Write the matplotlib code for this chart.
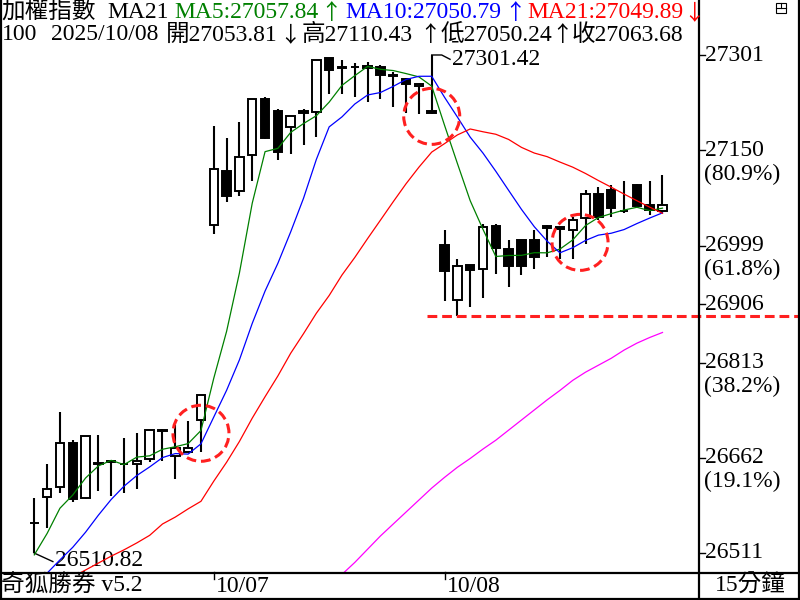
import numpy as np
import pandas as pd
import matplotlib
matplotlib.use("Agg")
import matplotlib.pyplot as plt
import matplotlib.transforms as mtransforms
from matplotlib.patches import Ellipse, Rectangle
from matplotlib.lines import Line2D

plt.rcParams['font.family'] = ['Liberation Serif', 'Noto Sans CJK TC', 'DejaVu Sans']

# 15 min candles, 14 bars before 10/07, then 10/07 and 10/08 (18 bars each)
opens = [26558, 26600, 26615, 26686, 26598, 26652, 26655, 26652, 26653, 26660,
         26705, 26665, 26672, 26722, 27031, 27118, 27086, 27143, 27232, 27213,
         27187, 27212, 27211, 27296, 27283, 27283, 27280, 27282, 27269, 27264,
         27252, 27212, 27000, 26913, 26968, 26962, 27030, 26994, 27007, 27007,
         27030, 27028, 27023, 27042, 27080, 27087, 27054, 27095, 27063, 27053.81]
highs = [26599, 26652, 26734, 26691, 26696, 26698, 26657, 26693, 26701, 26706,
         26707, 26714, 26720, 26762, 27188, 27170, 27195, 27231, 27234, 27215,
         27205, 27215, 27293, 27297, 27293, 27289, 27291, 27286, 27275, 27265,
         27256, 27301.42, 27023, 26977, 26968, 27033, 27033, 27007, 27008, 27023,
         27031, 27029, 27044, 27087, 27092, 27095, 27101, 27097, 27101, 27110.43]
lows = [26510.82, 26551, 26606, 26592, 26596, 26610, 26601, 26606, 26612, 26656,
        26657, 26628, 26672, 26672, 27018, 27068, 27078, 27101, 27168, 27134,
        27145, 27159, 27171, 27239, 27239, 27234, 27227, 27231, 27219, 27209,
        27208, 27208, 26911, 26887, 26901, 26916, 26954, 26933, 26952, 26962,
        26981, 26977, 26977, 27001, 27040, 27045, 27051, 27058, 27048, 27050.24]
closes = [26558, 26613, 26686, 26597, 26696, 26654, 26657, 26652, 26657, 26706,
          26706, 26677, 26677, 26761, 27121, 27078, 27140, 27231, 27170, 27147,
          27205, 27210, 27293, 27278, 27280, 27282, 27283.5, 27270, 27268, 27256,
          27256, 27210, 26959, 26966, 26960, 27028, 26995, 26967, 26967, 26981,
          27027, 27024.5, 27040, 27081.5, 27044, 27058, 27053, 27062, 27055, 27063.68]

# MA values before the window is full
ma5_head = [26508, 26542, 26582, 26603]
ma10_head = [26457, 26479, 26500, 26520, 26544, 26571, 26596, 26617, 26634]
ma21_head = [26441, 26452, 26463, 26473, 26484, 26495, 26506, 26516, 26527, 26539,
             26557, 26568, 26581, 26593, 26625, 26655, 26688, 26725, 26759, 26792]
# long average (magenta), from bar 25 on
ma_long = [26477, 26496, 26517, 26538, 26557, 26576, 26595, 26614, 26631, 26647,
           26661, 26676, 26690, 26706, 26722, 26738, 26754, 26769, 26785, 26798,
           26809, 26820, 26833, 26844, 26853, 26861]

axis_levels = [27301, 27150, 26999, 26906, 26813, 26662, 26511]
axis_pcts = ['', '(80.9%)', '(61.8%)', '', '(38.2%)', '(19.1%)', '']
day_labels = ['10/07', '10/08']
day_starts = [14, 32]

W, H = 800, 600
PX = 0.63          # pixels per index point
BAR = 12.82        # pixels per bar
FS = 17

fig = plt.figure(figsize=(8, 6), dpi=100)
ax = fig.add_axes([0, 28 / H, 698 / W, 572 / H])
ax.set_xlim(-2.675, 51.77)
ax.set_ylim(26480.8, 27388.7)
ax.axis('off')

n = len(closes)
x = np.arange(n)
o = np.array(opens)
c = np.array(closes)

# candles
ax.vlines(x, lows, highs, color='black', lw=1.5, zorder=3)
cols = ['white' if cc > oo else 'black' for oo, cc in zip(o, c)]
ax.bar(x, np.abs(c - o), bottom=np.minimum(o, c), width=0.66, color=cols,
       edgecolor='black', linewidth=1.4, zorder=4)

# moving averages
cs = pd.Series(closes)
ma5 = cs.rolling(5).mean().values
ma5[:4] = ma5_head
ma10 = cs.rolling(10).mean().values
ma10[:9] = ma10_head
ma21 = cs.rolling(21).mean().values
ma21[:20] = ma21_head
ax.plot(x, ma5, color='#008000', lw=0.9, zorder=5)
ax.plot(x, ma10, color='#0000ff', lw=0.9, zorder=5)
ax.plot(x, ma21, color='#ff0000', lw=0.9, zorder=5)
ax.plot(x[n - len(ma_long):], ma_long, color='#ff00ff', lw=0.9, zorder=5)

# red dashed circles
dash = (0, (3.2, 1.6))
for cx, cy in [(13.0, 26701), (31.0, 27204), (42.57, 27004)]:
    ax.add_patch(Ellipse((cx, cy), 2 * 28 / BAR, 2 * 28 / PX, fill=False,
                         edgecolor='#ff2020', lw=2.2, ls=dash, zorder=6))

# support line at the 10/08 low
support = min(lows[32:])
ax.plot([30.63, 59.8], [support, support], color='#ff2020', lw=2.2, ls=dash,
        clip_on=False, zorder=6)

# high / low markers
hi_i = int(np.argmax(highs))
ax.plot([hi_i, hi_i + 0.78, hi_i + 1.43],
        [highs[hi_i], highs[hi_i], highs[hi_i] - 4.3 / PX], color='black', lw=1.0)
ax.text(hi_i + 1.58, highs[hi_i] - 5 / PX, f'{highs[hi_i]:.2f}', fontsize=FS,
        va='center', ha='left')
lo_i = int(np.argmin(lows))
ax.plot([lo_i, lo_i + 1.45], [lows[lo_i], lows[lo_i] - 8.5 / PX], color='black', lw=1.0)
ax.text(lo_i + 1.6, lows[lo_i] - 7 / PX, f'{lows[lo_i]:.2f}', fontsize=FS,
        va='center', ha='left')

# right price axis
trans = mtransforms.blended_transform_factory(fig.transFigure, ax.transData)
for lv, pc in zip(axis_levels, axis_pcts):
    fig.add_artist(Line2D([699 / W, 705 / W], [lv, lv], transform=trans, color='black', lw=1))
    fig.text(705 / W, lv, str(lv), transform=trans, fontsize=FS, va='center', ha='left')
    if pc:
        fig.text(704 / W, lv - 24 / PX, pc, transform=trans, fontsize=FS,
                 va='center', ha='left')

# header
def ftxt(px, py, s, color='black', **kw):
    fig.text(px / W, 1 - py / H, s, color=color, fontsize=FS, va='center', ha='left', **kw)

def arrow(px, py, s, color='black'):
    fig.text(px / W, 1 - py / H, s, color=color, fontsize=15.5, va='center', ha='center',
             family=['Noto Sans CJK TC'])

ftxt(1, 13, '加權指數')
ftxt(107, 13, 'MA21')
ftxt(174, 13, 'MA5:27057.84', '#008000')
arrow(331, 13, '↑', '#008000')
ftxt(345, 13, 'MA10:27050.79', '#0000ff')
arrow(515, 13, '↑', '#0000ff')
ftxt(527, 13, 'MA21:27049.89', '#ff0000')
arrow(694, 13, '↓', '#ff0000')
ftxt(2, 35, '100')
ftxt(51, 35, '2025/10/08')
ftxt(166, 35, '開27053.81')
arrow(290, 35, '↓')
ftxt(302, 35, '高27110.43')
arrow(430, 35, '↑')
ftxt(441, 35, '低27050.24')
arrow(562, 35, '↑')
ftxt(572, 35, '收27063.68')

# bottom bar
ftxt(1, 586, '奇狐勝券 v5.2')
ftxt(715, 586, '15分鐘')
tb = mtransforms.blended_transform_factory(ax.transData, fig.transFigure)
for d, lab in zip(day_starts, day_labels):
    fig.add_artist(Line2D([d, d], [1 - 572 / H, 1 - 579 / H], transform=tb, color='black', lw=1))
    fig.text(d + 0.15, 1 - 586 / H, lab, transform=tb, fontsize=FS, va='center', ha='left')

# frame lines
def fline(xs, ys, lw=1.6):
    fig.add_artist(Line2D([v / W for v in xs], [1 - v / H for v in ys], color='black', lw=lw))

fline([699, 699], [0, 600])
fline([0, 800], [573, 573])
fline([0.8, 0.8], [0, 600])
fline([799.2, 799.2], [0, 600])
fline([0, 800], [599.2, 599.2])

# small window icon top right
fig.add_artist(Rectangle((776 / W, 1 - 13 / H), 10 / W, 10 / H, fill=False,
                         edgecolor='black', lw=0.8, transform=fig.transFigure))
fline([776, 786], [8, 8], lw=0.8)
fline([781, 781], [3, 8], lw=0.8)

fig.savefig('out.png', dpi=100)
